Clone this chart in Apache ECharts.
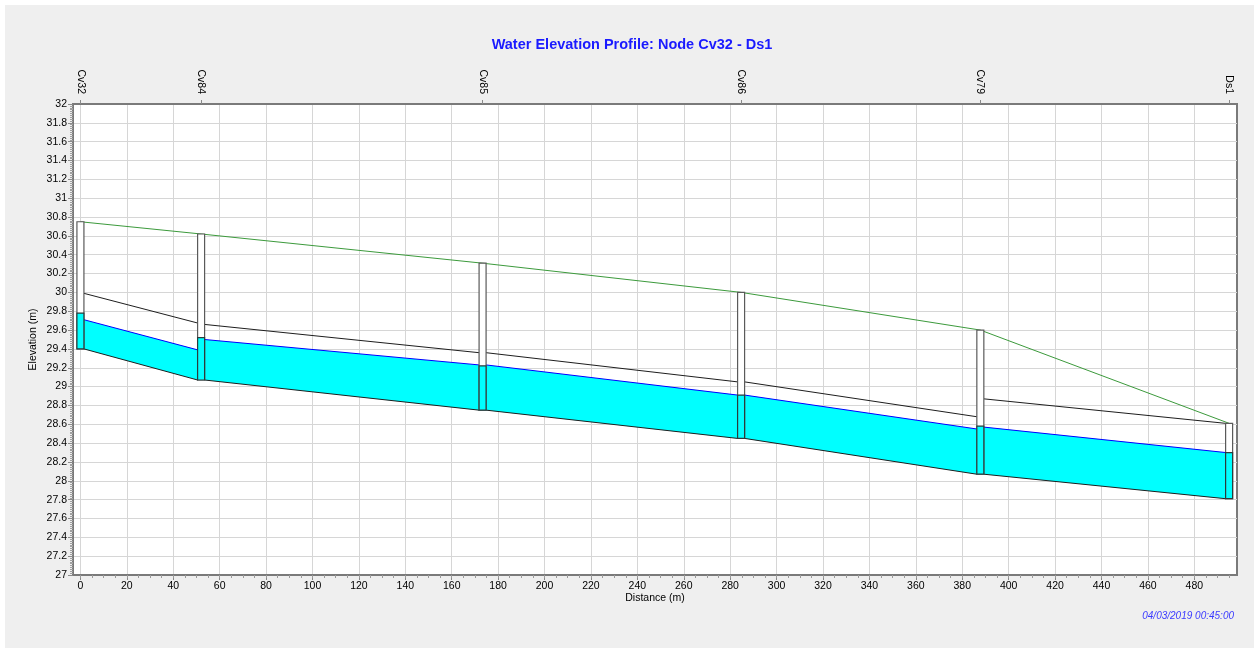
<!DOCTYPE html>
<html>
<head>
<meta charset="utf-8">
<title>Water Elevation Profile</title>
<script src="https://cdn.jsdelivr.net/npm/echarts@6/dist/echarts.min.js"></script>
<style>
  html, body { margin: 0; padding: 0; background: #ffffff; }
  #chart { width: 1259px; height: 650px; }
</style>
</head>
<body>
<div id="chart"></div>
<script>
// Nodes along the profile (distance in m, elevations in m)
const nodeNames  = ['Cv32', 'Cv84', 'Cv85', 'Cv86', 'Cv79', 'Ds1'];
const nodeDist   = [0, 52, 173.3, 284.7, 387.8, 495];
const nodeInvert = [29.40, 29.07, 28.75, 28.45, 28.07, 27.81];
const nodeWater  = [29.78, 29.52, 29.22, 28.91, 28.58, 28.30];
const nodeGround = [30.75, 30.62, 30.31, 30.00, 29.60, 28.61];

// Conduits between consecutive nodes (upstream / downstream ends)
const linkUpInvert = [29.40, 29.07, 28.75, 28.45, 28.07];
const linkDnInvert = [29.07, 28.75, 28.45, 28.07, 27.81];
const linkUpCrown  = [29.99, 29.66, 29.36, 29.05, 28.87];
const linkDnCrown  = [29.675, 29.36, 29.05, 28.68, 28.61];
const linkUpWater  = [29.71, 29.50, 29.23, 28.91, 28.57];
const linkDnWater  = [29.39, 29.23, 28.91, 28.55, 28.30];

// Axis ranges and tick labels
const distMin = -3.2, distMax = 498.4;
const distTicks = [0, 20, 40, 60, 80, 100, 120, 140, 160, 180, 200, 220, 240, 260, 280, 300, 320, 340, 360, 380, 400, 420, 440, 460, 480];
const distMinorTicks = [];
for (let d = 0; d <= 495; d += 5) distMinorTicks.push(d);
const elevMin = 27, elevMax = 32, elevStep = 0.2;

const titleText = 'Water Elevation Profile: Node Cv32 - Ds1';
const stampText = '04/03/2019 00:45:00';

const linkData = nodeNames.slice(0, -1).map((_, i) => [
  nodeDist[i], nodeDist[i + 1],
  linkUpInvert[i], linkDnInvert[i],
  linkUpCrown[i], linkDnCrown[i],
  linkUpWater[i], linkDnWater[i]
]);
const nodeData = nodeNames.map((_, i) => [nodeDist[i], nodeInvert[i], nodeWater[i], nodeGround[i]]);
const groundData = nodeNames.map((_, i) => [nodeDist[i], nodeGround[i]]);

const BOX_HALF = 3.5;
const FONT = 'Arial, "Liberation Sans", sans-serif';

function renderLink(params, api) {
  const xu = api.value(0), xd = api.value(1);
  const yUI = api.coord([xu, api.value(2)])[1];
  const yDI = api.coord([xd, api.value(3)])[1];
  const yUC = api.coord([xu, api.value(4)])[1];
  const yDC = api.coord([xd, api.value(5)])[1];
  const yUW = api.coord([xu, api.value(6)])[1];
  const yDW = api.coord([xd, api.value(7)])[1];
  const x1 = api.coord([xu, 0])[0] + BOX_HALF;
  const x2 = api.coord([xd, 0])[0] - BOX_HALF;
  return {
    type: 'group',
    children: [
      { type: 'polygon', shape: { points: [[x1, yUW], [x2, yDW], [x2, yDI], [x1, yUI]] },
        style: { fill: '#00ffff', stroke: null } },
      { type: 'polyline', shape: { points: [[x1, yUC], [x2, yDC]] },
        style: { stroke: '#1e1e1e', lineWidth: 1, fill: null } },
      { type: 'polyline', shape: { points: [[x1, yUW], [x2, yDW]] },
        style: { stroke: '#0000ff', lineWidth: 1, fill: null } },
      { type: 'polyline', shape: { points: [[x1, yUI], [x2, yDI]] },
        style: { stroke: '#1e1e1e', lineWidth: 1, fill: null } }
    ]
  };
}

function renderNode(params, api) {
  const x = api.coord([api.value(0), 0])[0];
  const yI = api.coord([api.value(0), api.value(1)])[1];
  const yW = api.coord([api.value(0), api.value(2)])[1];
  const yG = api.coord([api.value(0), api.value(3)])[1];
  return {
    type: 'group',
    children: [
      { type: 'rect', shape: { x: x - BOX_HALF, y: yG, width: BOX_HALF * 2, height: yI - yG },
        style: { fill: '#ffffff', stroke: '#5a5a5a', lineWidth: 1.2 } },
      { type: 'rect', shape: { x: x - BOX_HALF, y: yW, width: BOX_HALF * 2, height: yI - yW },
        style: { fill: '#00ffff', stroke: '#2b3b3b', lineWidth: 1.2 } }
    ]
  };
}

const chart = echarts.init(document.getElementById('chart'), null, { renderer: 'canvas' });

chart.setOption({
  animation: false,
  backgroundColor: 'transparent',
  textStyle: { fontFamily: FONT },
  graphic: [
    { type: 'rect', z: -10, silent: true,
      shape: { x: 5, y: 5, width: 1249, height: 643 },
      style: { fill: '#efefef' } },
    { type: 'text', x: 632, y: 45, silent: true,
      style: { text: titleText, fill: '#1a1aff', font: 'bold 14.5px ' + FONT,
               textAlign: 'center', textVerticalAlign: 'middle' } },
    { type: 'text', x: 1234, y: 616, silent: true,
      style: { text: stampText, fill: '#3b3bff', font: 'italic 10px ' + FONT,
               textAlign: 'right', textVerticalAlign: 'middle' } }
  ],
  grid: {
    left: 73, right: 22, top: 104, bottom: 75,
    show: true, backgroundColor: '#ffffff',
    borderColor: '#7a7a7a', borderWidth: 2
  },
  xAxis: [
    {
      type: 'value', position: 'bottom', min: distMin, max: distMax,
      name: 'Distance (m)', nameLocation: 'middle', nameGap: 18, nameMoveOverlap: false,
      nameTextStyle: { fontSize: 10.5, color: '#000' },
      axisLine: { show: true, onZero: false, lineStyle: { color: '#7a7a7a', width: 2 } },
      axisTick: { show: true, customValues: distTicks, length: 5, lineStyle: { color: '#8a8a8a' } },
      axisLabel: { show: true, customValues: distTicks, fontSize: 10.5, color: '#000', margin: 6 },
      splitLine: { show: true, lineStyle: { color: '#d6d6d6', width: 1 } }
    },
    {
      type: 'value', position: 'top', min: distMin, max: distMax,
      axisLine: { show: true, onZero: false, lineStyle: { color: '#7a7a7a', width: 2 } },
      axisTick: { show: true, customValues: nodeDist, length: 4, lineStyle: { color: '#8a8a8a' } },
      axisLabel: {
        show: true, customValues: nodeDist, rotate: 90, fontSize: 10.5, color: '#000', margin: 10,
        formatter: v => { const k = nodeDist.indexOf(v); return k >= 0 ? nodeNames[k] : ''; }
      },
      splitLine: { show: false }
    },
    {
      type: 'value', position: 'bottom', min: distMin, max: distMax,
      axisLine: { show: false, onZero: false },
      axisTick: { show: true, customValues: distMinorTicks, length: 3, lineStyle: { color: '#9a9a9a' } },
      axisLabel: { show: false },
      splitLine: { show: false }
    }
  ],
  yAxis: {
    type: 'value', min: elevMin, max: elevMax, interval: elevStep,
    name: 'Elevation (m)', nameLocation: 'middle', nameGap: 34, nameRotate: 90, nameMoveOverlap: false,
    nameTextStyle: { fontSize: 10.5, color: '#000' },
    axisLine: { show: true, onZero: false, lineStyle: { color: '#7a7a7a', width: 2 } },
    axisTick: { show: true, length: 5, lineStyle: { color: '#8a8a8a' } },
    minorTick: { show: true, splitNumber: 10, length: 3, lineStyle: { color: '#a0a0a0' } },
    axisLabel: { fontSize: 10.5, color: '#000', margin: 6 },
    splitLine: { show: true, lineStyle: { color: '#d6d6d6', width: 1 } }
  },
  series: [
    {
      type: 'custom', name: 'Conduits', xAxisIndex: 0, yAxisIndex: 0,
      renderItem: renderLink, data: linkData, z: 2, silent: true
    },
    {
      type: 'line', name: 'Ground', xAxisIndex: 0, yAxisIndex: 0,
      data: groundData, showSymbol: false, symbol: 'none', z: 3,
      lineStyle: { color: '#3c9a3c', width: 1 }, silent: true
    },
    {
      type: 'custom', name: 'Nodes', xAxisIndex: 0, yAxisIndex: 0,
      renderItem: renderNode, data: nodeData, z: 4, silent: true
    }
  ]
});
</script>
</body>
</html>
